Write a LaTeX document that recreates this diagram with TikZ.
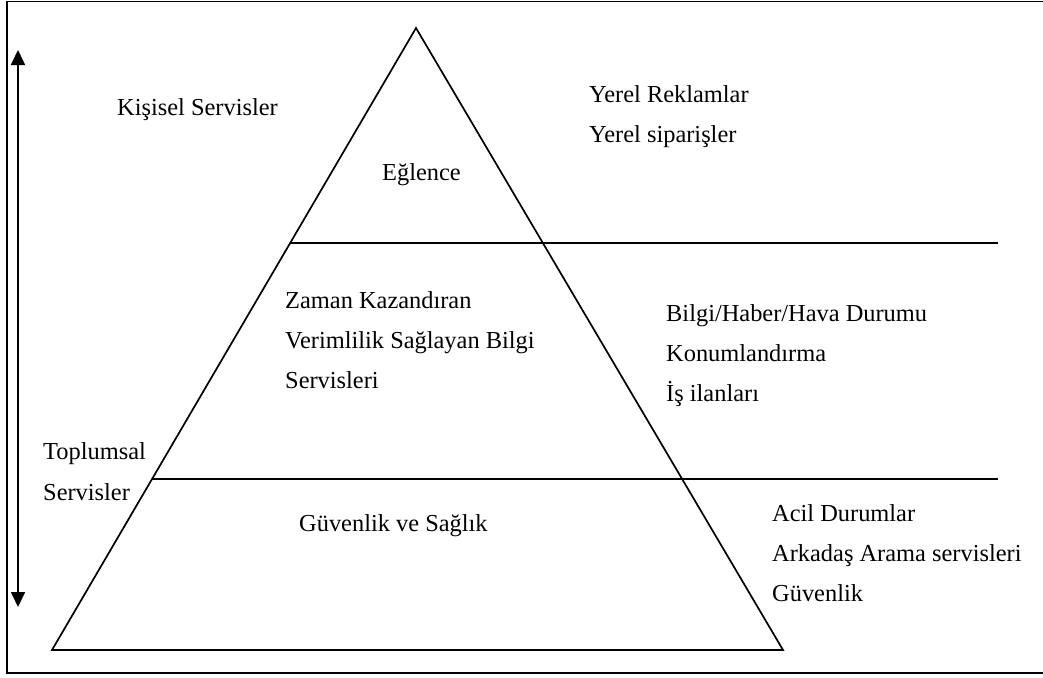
\documentclass[tikz,border=0pt]{standalone}
\usepackage{fontspec}
\setmainfont{Liberation Serif}
\usetikzlibrary{arrows.meta}
\begin{document}
\begin{tikzpicture}[x=1pt,y=-1pt,
  line/.style={line width=1.7pt,black},
  lbl/.style={anchor=base west,inner sep=0pt,font=\fontsize{24.4}{28}\selectfont}]
\useasboundingbox (0,0) rectangle (1043,677);
% frame (open on the right)
\draw[line] (1045,1.5) -- (7,1.5) -- (7,673) -- (1045,673);
% pyramid
\coordinate (apex) at (416,28);
\coordinate (bl) at (52,650);
\coordinate (br) at (783,650);
\draw[line,line join=miter] (apex) -- (bl) -- (br) -- cycle;
% layer boundaries
\coordinate (l1a) at (290,243);
\coordinate (l1b) at (998,243);
\coordinate (l2a) at (152,479);
\coordinate (l2b) at (998,479);
\draw[line] (l1a) -- (l1b);
\draw[line] (l2a) -- (l2b);
% double-headed axis
\coordinate (axtop) at (18,50);
\coordinate (axbot) at (18,607);
\draw[line,{Triangle[width=14pt,length=15pt]}-{Triangle[width=14pt,length=15pt]}] (axtop) -- (axbot);
% labels
\node[lbl] (kisisel) at (117,115) {Kişisel Servisler};
\node[lbl] (rek) at (589,102) {Yerel Reklamlar};
\node[lbl] (sip) at (589,142) {Yerel siparişler};
\node[lbl] (egl) at (382,180) {Eğlence};
\node[lbl] (zam) at (285,308) {Zaman Kazandıran};
\node[lbl] (ver) at (285,348) {Verimlilik Sağlayan Bilgi};
\node[lbl] (ser) at (285,388) {Servisleri};
\node[lbl] (bil) at (666,321) {Bilgi/Haber/Hava Durumu};
\node[lbl] (kon) at (666,361) {Konumlandırma};
\node[lbl] (is) at (666,401) {İş ilanları};
\node[lbl] (top) at (43,459) {Toplumsal};
\node[lbl] (tser) at (43,500) {Servisler};
\node[lbl] (guv) at (299,531) {Güvenlik ve Sağlık};
\node[lbl] (acil) at (772,521) {Acil Durumlar};
\node[lbl] (ark) at (772,561) {Arkadaş Arama servisleri};
\node[lbl] (gvn) at (772,601) {Güvenlik};
\end{tikzpicture}
\end{document}
